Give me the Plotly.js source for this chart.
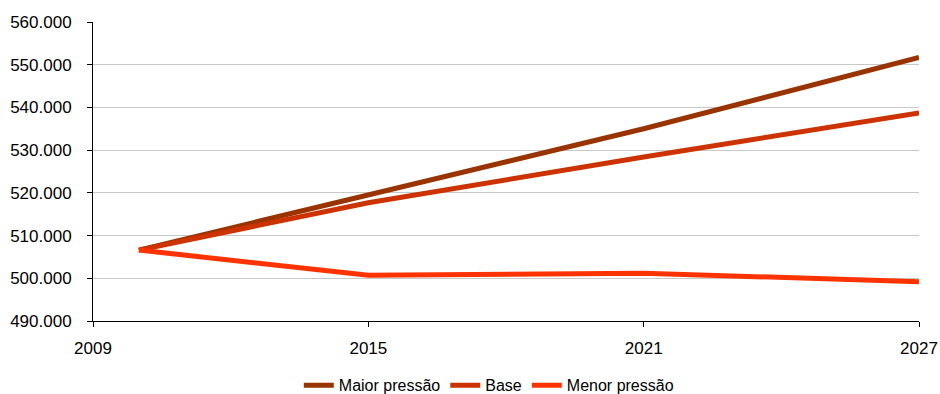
<!DOCTYPE html>
<html>
<head>
<meta charset="utf-8">
<script src="https://cdn.plot.ly/plotly-3.0.1.min.js"></script>
<style>
  html, body { margin: 0; padding: 0; background: #fff; }
  #chart { width: 940px; height: 394px; }
</style>
</head>
<body>
<div id="chart"></div>
<script>
// Projection scenarios, values in units
const years = [2010, 2015, 2021, 2027];
const maiorPressao = [506600, 519500, 535000, 551700];
const base = [506600, 517700, 528400, 538700];
const menorPressao = [506600, 500700, 501200, 499200];

const seriesNames = ['Maior pressão', 'Base', 'Menor pressão'];
const seriesColors = ['#993300', '#CC3300', '#FF3300'];

const xTicks = [2009, 2015, 2021, 2027];
const yTicks = [490000, 500000, 510000, 520000, 530000, 540000, 550000, 560000];

const traces = [maiorPressao, base, menorPressao].map((vals, i) => ({
  x: years,
  y: vals,
  type: 'scatter',
  mode: 'lines',
  name: seriesNames[i],
  line: { color: seriesColors[i], width: 5 }
}));

const layout = {
  width: 940,
  height: 394,
  margin: { l: 93, r: 21, t: 22, b: 73, autoexpand: false },
  paper_bgcolor: '#ffffff',
  plot_bgcolor: '#ffffff',
  separators: ',.',
  font: { family: 'Liberation Sans, Arial, sans-serif', color: '#000000' },
  showlegend: true,
  legend: {
    orientation: 'h',
    xref: 'container',
    yref: 'container',
    x: 0.52,
    xanchor: 'center',
    y: 0.022,
    yanchor: 'middle',
    font: { size: 16, color: '#000000' },
    itemwidth: 30,
    tracegroupgap: 0
  },
  xaxis: {
    range: [2009, 2027],
    tickvals: xTicks,
    ticktext: xTicks.map(String),
    showgrid: false,
    zeroline: false,
    showline: true,
    linecolor: '#000000',
    linewidth: 1,
    ticks: 'outside',
    ticklen: 5,
    tickcolor: '#000000',
    ticklabelstandoff: 7,
    tickfont: { size: 17, color: '#000000' }
  },
  yaxis: {
    range: [490000, 560000],
    tickvals: yTicks,
    tickformat: ',.0f',
    showgrid: true,
    gridcolor: '#c8c8c8',
    gridwidth: 1,
    zeroline: false,
    showline: true,
    linecolor: '#000000',
    linewidth: 1,
    ticks: 'outside',
    ticklen: 5,
    tickcolor: '#000000',
    ticklabelstandoff: 12,
    tickfont: { size: 17, color: '#000000' }
  }
};

Plotly.newPlot('chart', traces, layout, { displayModeBar: false, staticPlot: true });
</script>
</body>
</html>
